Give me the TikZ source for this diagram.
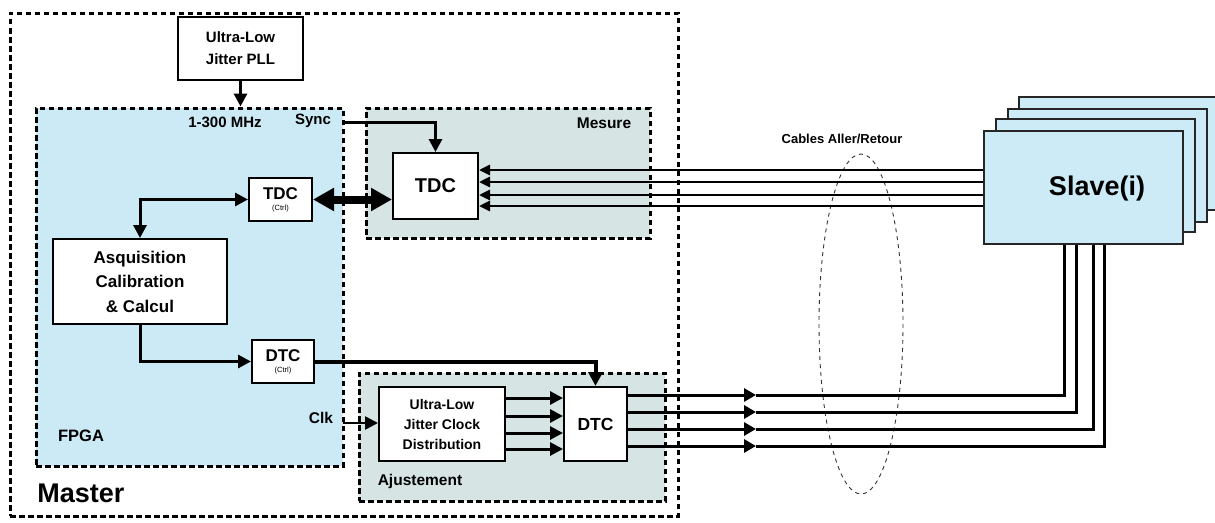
\documentclass[tikz,border=0pt]{standalone}
\usepackage{fontspec}
\setmainfont{Liberation Sans}
\usetikzlibrary{arrows.meta}
\definecolor{fpgablue}{RGB}{204,234,245}
\definecolor{grpgray}{RGB}{214,228,228}
\definecolor{slaveblue}{RGB}{204,235,246}
\newcommand\myfs[2]{\fontsize{#1}{#2}\selectfont}
\begin{document}
\begin{tikzpicture}[x=1pt,y=-1pt,font=\bfseries,
  box/.style={draw=black,line width=2pt,fill=white,inner sep=0pt,align=center},
  grp/.style={draw=black,line width=3pt,dash pattern=on 5.5pt off 3.5pt,inner sep=0pt},
  lbl/.style={inner sep=0pt,align=center},
  conn/.style={line width=3pt,-{Triangle[length=13pt,width=13pt]}},
  inarr/.style={line width=2.6pt,-{Triangle[length=11pt,width=10pt]}},
  outarr/.style={line width=3pt,-{Triangle[length=12pt,width=13pt]}},
  cable/.style={line width=3pt},
  slavebox/.style={draw=black!85,line width=2pt,fill=slaveblue,inner sep=0pt,minimum width=199,minimum height=113}]
\useasboundingbox (0,0) rectangle (1215,522);

% containers
\node[grp,minimum width=668,minimum height=503] (master) at (344,264.5) {};
\node[grp,fill=fpgablue,minimum width=307,minimum height=358] (fpga) at (189.5,287) {};
\node[grp,fill=grpgray,minimum width=284,minimum height=130] (mesure) at (508,173) {};
\node[grp,fill=grpgray,minimum width=306,minimum height=128] (ajust) at (512,437) {};

% boxes
\node[box,minimum width=125,minimum height=63,font=\bfseries\myfs{15}{22}] (pll) at (240.5,48.5) {Ultra-Low\\Jitter PLL};
\node[box,minimum width=85,minimum height=66,font=\bfseries\myfs{20}{24}] (tdc) at (435.5,186) {TDC};
\node[box,minimum width=63,minimum height=43] (tdcc) at (280.5,199.5) {{\myfs{17}{14}TDC}\\[-1pt]{\mdseries\myfs{7.5}{8}(Ctrl)}};
\node[box,minimum width=174,minimum height=85,font=\bfseries\myfs{17}{24.5}] (acq) at (140,281.5) {Asquisition\\Calibration\\\& Calcul};
\node[box,minimum width=62,minimum height=43] (dtcc) at (283,361.5) {{\myfs{17}{14}DTC}\\[-1pt]{\mdseries\myfs{7.5}{8}(Ctrl)}};
\node[box,minimum width=126,minimum height=74,font=\bfseries\myfs{14}{20}] (dist) at (442,424) {Ultra-Low\\Jitter Clock\\Distribution};
\node[box,minimum width=63,minimum height=74,font=\bfseries\myfs{17.5}{20}] (dtc) at (595.5,424) {DTC};

% slaves
\node[slavebox] (s4) at (1118.5,153.5) {};
\node[slavebox] (s3) at (1107.5,165.5) {};
\node[slavebox] (s2) at (1095.5,175.5) {};
\node[slavebox] (s1) at (1083.5,187.5) {};
\node[lbl,font=\bfseries\myfs{27}{30}] (slavet) at (1097,189) {Slave(i)};

% labels
\node[lbl,font=\bfseries\myfs{15}{18}] (mhz) at (225,122) {1-300 MHz};
\node[lbl,font=\bfseries\myfs{15}{18}] (sync) at (313,121) {Sync};
\node[lbl,font=\bfseries\myfs{15.5}{18}] (mes) at (604,123) {Mesure};
\node[lbl,font=\bfseries\myfs{15.5}{18}] (clk) at (321,418) {Clk};
\node[lbl,font=\bfseries\myfs{15.5}{18}] (ajt) at (420,481) {Ajustement};
\node[lbl,font=\bfseries\myfs{16.5}{18}] (fpgat) at (81,436) {FPGA};
\node[lbl,font=\bfseries\myfs{27}{30}] (mastert) at (81,493) {Master};
\node[lbl,font=\bfseries\myfs{13}{16}] (cables) at (842,139) {Cables Aller/Retour};

% ellipse of cables
\draw[black!80,line width=0.9pt,dash pattern=on 4pt off 4pt] (861,324) ellipse [x radius=42,y radius=170];

% helper coordinates
\coordinate (syncpt) at (343,122);
\coordinate (clkpt) at (343,423);
\coordinate (r1) at (0,170);
\coordinate (r2) at (0,182);
\coordinate (r3) at (0,195);
\coordinate (r4) at (0,206);
\coordinate (d1) at (0,398);
\coordinate (d2) at (0,416);
\coordinate (d3) at (0,433);
\coordinate (d4) at (0,449);
\coordinate (k1) at (1064,395);
\coordinate (k2) at (1076,412);
\coordinate (k3) at (1093,429);
\coordinate (k4) at (1104,446);
\coordinate (m1) at (756,395);
\coordinate (m2) at (756,412);
\coordinate (m3) at (756,429);
\coordinate (m4) at (756,446);

% connectors
\draw[conn] (pll.south) -- (pll.south |- fpga.north);
\draw[conn] (syncpt) -| (tdc.north);
\draw[line width=3pt,{Triangle[length=13pt,width=13pt]}-{Triangle[length=13pt,width=13pt]}] (tdcc.west) -| (acq.north);
\draw[line width=8pt,{Triangle[length=21pt,width=22pt]}-{Triangle[length=21pt,width=22pt]}] (tdcc.east) -- (tdcc.east -| tdc.west);
\draw[conn] (acq.south) |- (dtcc.west);
\draw[line width=4pt,-{Triangle[length=14pt,width=14pt]}] (dtcc.east) -| (dtc.north);
\draw[line width=2.5pt,-{Triangle[length=13pt,width=13pt]}] (clkpt) -- (clkpt -| dist.west);
\foreach \d in {d1,d2,d3,d4}{
  \draw[conn] (dist.east |- \d) -- (dtc.west |- \d);
}
\foreach \r in {r1,r2,r3,r4}{
  \draw[inarr] (s1.west |- \r) -- (tdc.east |- \r);
}
\foreach \k/\m in {k1/m1,k2/m2,k3/m3,k4/m4}{
  \draw[outarr] (dtc.east |- \k) -- (\m);
  \draw[cable] (\m) -- (\k) -- (\k |- s1.south);
}
\end{tikzpicture}
\end{document}
